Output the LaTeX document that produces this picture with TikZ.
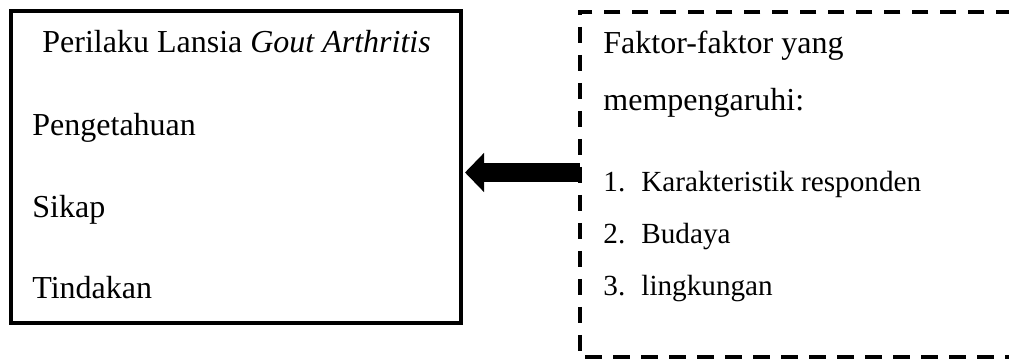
\documentclass[tikz,border=0pt]{standalone}
\usepackage{fontspec}
\setmainfont{Liberation Serif}
\usepackage{tikz}
\usetikzlibrary{arrows.meta}

\begin{document}
\begin{tikzpicture}[x=0.5pt,y=-0.5pt,line cap=butt,
  font=\fontsize{16}{19}\selectfont,
  solidbox/.style={draw,line width=2pt,minimum width=225pt,minimum height=156pt,inner sep=0pt},
  dashbox/.style={minimum width=300pt,minimum height=172.5pt,inner sep=0pt},
  dashline/.style={line width=2pt,dash pattern=on 8.3pt off 5.7pt},
  txt/.style={anchor=base west,inner sep=0pt},
  item/.style={txt,font=\fontsize{14.6}{17}\selectfont}]
\useasboundingbox (0,0) rectangle (1009,361);
% the two boxes (the right one runs off the page)
\node[solidbox] (perilaku) at (236,167) {};
\node[dashbox] (faktor) at (880,184.5) {};
\begin{scope}
\clip (0,0) rectangle (1009,361);
\draw[dashline] (faktor.north east) -- (faktor.north west) -- (faktor.south west) -- (faktor.south east);
\end{scope}
% texts of the left box
\node[txt] (judul) at (42,52) {Perilaku Lansia \textit{Gout Arthritis}};
\node[txt] (tahu) at (32,135) {Pengetahuan};
\node[txt] (sikap) at (32,217) {Sikap};
\node[txt] (tindak) at (32,298) {Tindakan};
% texts of the right box
\node[txt] (f1) at (603,53) {Faktor-faktor yang};
\node[txt] (f2) at (603,110) {mempengaruhi:};
\node[item] (n1) at (603,191) {1.};
\node[item] (k1) at (641,191) {Karakteristik responden};
\node[item] (n2) at (603,243) {2.};
\node[item] (k2) at (641,243) {Budaya};
\node[item] (n3) at (603,295) {3.};
\node[item] (k3) at (641,295) {lingkungan};
% arrow
\coordinate (panah) at (0,172.5);
\draw[line width=9.5pt,-{Triangle[length=9.5pt,width=19pt]}]
  (faktor.west |- panah) -- ([xshift=1pt]perilaku.east |- panah);
\end{tikzpicture}
\end{document}
